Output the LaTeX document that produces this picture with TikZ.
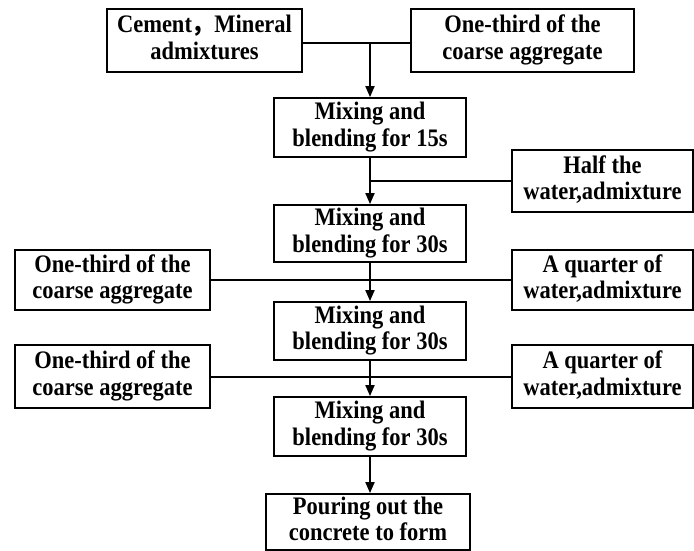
\documentclass[tikz,border=0pt]{standalone}
\usepackage{fontspec}
\usepackage{graphicx}
\setmainfont{Liberation Serif}
\newfontfamily\cjk{Noto Sans CJK SC}
\usetikzlibrary{arrows.meta}
\newcommand\twoline[2]{\scalebox{1}[1.12]{\begin{tabular}{@{}c@{}}#1\\[-1.5pt]#2\end{tabular}}}
\begin{document}
\begin{tikzpicture}[x=1pt,y=-1pt,
  box/.style={draw, line width=1.8pt, align=center, inner sep=0pt,
    font=\fontsize{22.5}{25}\selectfont\bfseries},
  conn/.style={line width=1.8pt},
  arr/.style={line width=1.8pt, -{Triangle[length=11pt,width=9pt]}}]
\useasboundingbox (0,0) rectangle (694,551);
\node[box, minimum width=195, minimum height=63] (A) at (204.5,40.5) {\twoline{Cement{\cjk ，}Mineral}{admixtures}};
\node[box, minimum width=223, minimum height=63] (B) at (522.5,40.5) {\twoline{One-third of the}{coarse aggregate}};
\node[box, minimum width=192, minimum height=59] (C) at (370,127.5) {\twoline{Mixing and}{blending for 15s}};
\node[box, minimum width=181, minimum height=62] (E) at (602.5,181) {\twoline{Half the}{water,admixture}};
\node[box, minimum width=192, minimum height=57] (D) at (370,233.5) {\twoline{Mixing and}{blending for 30s}};
\node[box, minimum width=195, minimum height=60] (F) at (112.5,280) {\twoline{One-third of the}{coarse aggregate}};
\node[box, minimum width=181, minimum height=60] (G) at (602.5,280) {\twoline{A quarter of}{water,admixture}};
\node[box, minimum width=192, minimum height=58] (H) at (370,331) {\twoline{Mixing and}{blending for 30s}};
\node[box, minimum width=195, minimum height=63] (I) at (112.5,376.5) {\twoline{One-third of the}{coarse aggregate}};
\node[box, minimum width=181, minimum height=63] (J) at (602.5,376.5) {\twoline{A quarter of}{water,admixture}};
\node[box, minimum width=192, minimum height=59] (K) at (370,426.5) {\twoline{Mixing and}{blending for 30s}};
\node[box, minimum width=204, minimum height=56] (L) at (368,522) {\twoline{Pouring out the}{concrete to form}};
\coordinate (j1) at ([yshift=-2.5pt]C.north |- A.east);
\draw[conn] ([yshift=-2.5pt]A.east) -- ([yshift=-2.5pt]B.west);
\draw[arr] (j1) -- (C.north);
\draw[arr] (C.south) -- (D.north);
\draw[conn] (E.west) -- (E.west -| C.south);
\draw[conn] (F.east) -- (G.west);
\draw[arr] (D.south) -- (H.north);
\draw[conn] ([yshift=-0.5pt]I.east) -- ([yshift=-0.5pt]J.west);
\draw[arr] (H.south) -- (K.north);
\draw[arr] (K.south) -- (K.south |- L.north);
\end{tikzpicture}
\end{document}
